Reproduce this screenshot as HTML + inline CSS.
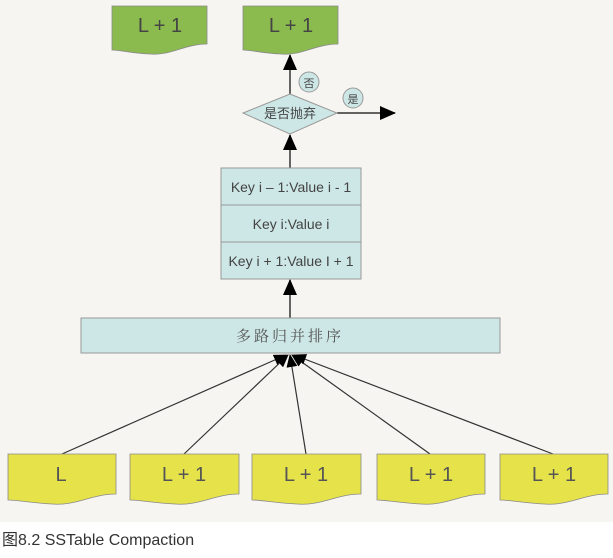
<!DOCTYPE html>
<html><head><meta charset="utf-8"><style>
body{margin:0;width:613px;height:553px;background:#fff;overflow:hidden}
</style></head><body>
<svg width="613" height="553" xmlns="http://www.w3.org/2000/svg" font-family="Liberation Sans, Noto Sans CJK SC, sans-serif">
<defs>
<marker id="b" markerWidth="16" markerHeight="14" refX="15" refY="7" orient="auto" markerUnits="userSpaceOnUse"><path d="M0,0 L16,7 L0,14 z" fill="#000"/></marker>
<marker id="c" markerWidth="13" markerHeight="11" refX="12" refY="5.5" orient="auto" markerUnits="userSpaceOnUse"><path d="M0,0 L13,5.5 L0,11 z" fill="#000"/></marker></defs>
<rect x="0" y="0" width="613" height="522" fill="#f6f5f1"/>
<g fill="#8bbb4e" stroke="#8a8a8a" stroke-width="0.8">
<path d="M112,6 H207 V44 C185,44 170,56 150,54 C130,53 120,50 112,50 Z"/>
<path d="M243,6 H338 V44 C316,44 301,56 281,54 C261,53 251,50 243,50 Z"/>
</g>
<g font-size="20" fill="#444" text-anchor="middle"><text x="160" y="32">L + 1</text><text x="291" y="32">L + 1</text></g>
<line x1="290" y1="94" x2="290" y2="55" stroke="#333" stroke-width="1.5" marker-end="url(#b)"/>
<line x1="337" y1="113" x2="395" y2="113" stroke="#333" stroke-width="1.5" marker-end="url(#b)"/>
<polygon points="290,94 337,113 290,134 243,113" fill="#cde6e6" stroke="#999"/>
<text x="290" y="118" font-size="13" fill="#444" text-anchor="middle">是否抛弃</text>
<circle cx="309" cy="82" r="10" fill="#cde6e6" stroke="#999"/><text x="309" y="87" font-size="11" fill="#444" text-anchor="middle">否</text>
<circle cx="353" cy="98" r="10" fill="#cde6e6" stroke="#999"/><text x="353" y="103" font-size="11" fill="#444" text-anchor="middle">是</text>
<line x1="290" y1="168" x2="290" y2="135" stroke="#333" stroke-width="1.5" marker-end="url(#b)"/>
<g fill="#cde6e6" stroke="#999"><rect x="221" y="168" width="140" height="37"/><rect x="221" y="205" width="140" height="37"/><rect x="221" y="242" width="140" height="37"/></g>
<g font-size="14" fill="#444" text-anchor="middle"><text x="291" y="192">Key i – 1:Value i - 1</text><text x="291" y="229">Key i:Value i</text><text x="291" y="266">Key i + 1:Value I + 1</text></g>
<line x1="290" y1="318" x2="290" y2="280" stroke="#333" stroke-width="1.5" marker-end="url(#b)"/>
<rect x="81" y="318" width="419" height="35" fill="#cde6e6" stroke="#999"/>
<text x="290" y="341" font-size="15" fill="#555" text-anchor="middle" font-family="Noto Serif CJK SC, serif" letter-spacing="3">多路归并排序</text>
<g stroke="#333" stroke-width="1.2">
<line x1="62" y1="454" x2="286" y2="355" marker-end="url(#c)"/>
<line x1="184" y1="454" x2="288" y2="355" marker-end="url(#c)"/>
<line x1="306" y1="454" x2="290" y2="355" marker-end="url(#c)"/>
<line x1="430" y1="454" x2="292" y2="355" marker-end="url(#c)"/>
<line x1="553" y1="454" x2="294" y2="355" marker-end="url(#c)"/>
</g>
<g fill="#e6e24a" stroke="#8a8a8a" stroke-width="0.8">
<path d="M8,454 H116 V494 C92,494 76,506 52,504 C30,503 18,500 8,500 Z"/>
<path d="M130,454 H239 V494 C215,494 199,506 175,504 C153,503 141,500 130,500 Z"/>
<path d="M252,454 H361 V494 C337,494 321,506 297,504 C275,503 263,500 252,500 Z"/>
<path d="M377,454 H485 V494 C461,494 445,506 421,504 C399,503 387,500 377,500 Z"/>
<path d="M500,454 H608 V494 C584,494 568,506 544,504 C522,503 510,500 500,500 Z"/>
</g>
<g font-size="20" fill="#555" text-anchor="middle"><text x="61" y="481">L</text><text x="184" y="481">L + 1</text><text x="306" y="481">L + 1</text><text x="431" y="481">L + 1</text><text x="554" y="481">L + 1</text></g>
<text x="2" y="545" font-size="16" fill="#333">图8.2 SSTable Compaction</text>
</svg>
</body></html>
